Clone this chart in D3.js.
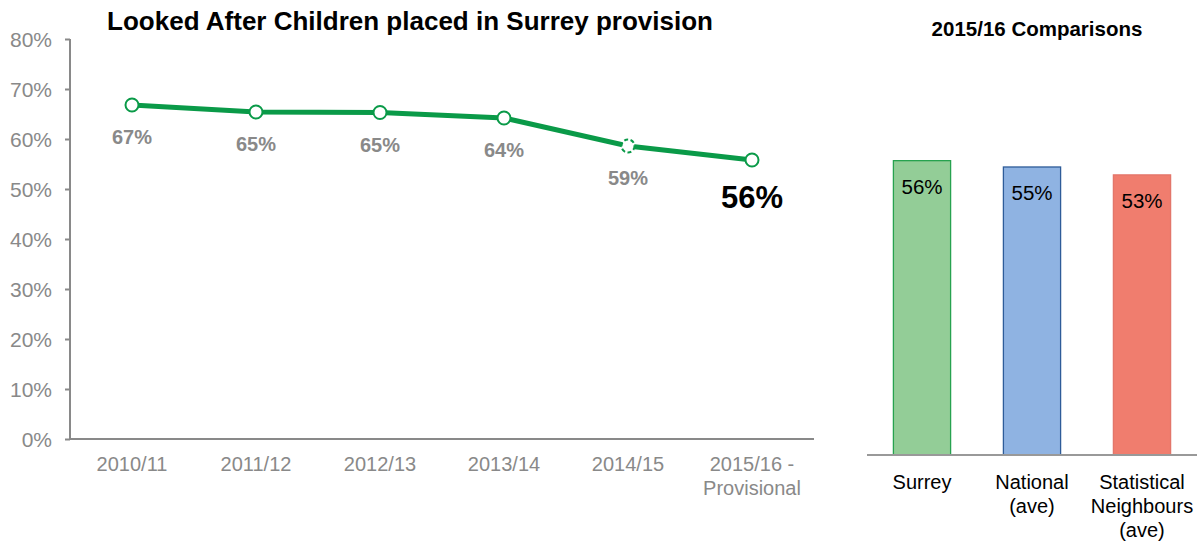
<!DOCTYPE html>
<html>
<head>
<meta charset="utf-8">
<script src="https://cdn.jsdelivr.net/npm/d3@7"></script>
<style>
  html, body { margin: 0; padding: 0; background: #fff; }
  svg { display: block; font-family: "Liberation Sans", Arial, sans-serif; }
</style>
</head>
<body>
<svg id="chart" width="1201" height="543"></svg>
<script>
// Trend: share of looked after children placed in Surrey provision
const years = ["2010/11", "2011/12", "2012/13", "2013/14", "2014/15", "2015/16 -\nProvisional"];
const placedShare = [0.668, 0.654, 0.653, 0.642, 0.586, 0.558];
const yTicks = [0, 0.1, 0.2, 0.3, 0.4, 0.5, 0.6, 0.7, 0.8];

// 2015/16 comparison
const groups = ["Surrey", "National\n(ave)", "Statistical\nNeighbours\n(ave)"];
const groupShare = [0.558, 0.546, 0.531];
const groupFill = ["#93cd97", "#8fb3e2", "#f07d6e"];
const groupStroke = ["#27a24f", "#2e5c99", "#e3766a"];

const svg = d3.select("#chart");
const pct = d3.format(".0%");
const green = "#0a9a48";
const grey = "#898989";

// ---------- Line chart ----------
const x = d3.scaleBand().domain(years).range([70, 814]);
const y = d3.scaleLinear().domain([0, 0.8]).range([439, 39]);
const cx = d => x(d) + x.bandwidth() / 2;

svg.append("text")
  .attr("x", 410).attr("y", 30)
  .attr("text-anchor", "middle")
  .style("font-size", "26px").style("font-weight", "bold")
  .text("Looked After Children placed in Surrey provision");

const yAxis = svg.append("g")
  .attr("transform", "translate(70,0)")
  .call(d3.axisLeft(y).tickValues(yTicks).tickFormat(pct).tickSize(5).tickPadding(13));
yAxis.select(".domain").attr("stroke", grey).attr("stroke-width", 2).attr("d", "M0,39V439");
yAxis.selectAll(".tick line").attr("stroke", grey).attr("stroke-width", 2);
yAxis.selectAll(".tick text").attr("fill", grey).attr("dy", "0.35em")
  .style("font-size", "21px").style("font-family", "Liberation Sans, Arial, sans-serif");

// x baseline
svg.append("line")
  .attr("x1", 70).attr("x2", 814).attr("y1", y(0)).attr("y2", y(0))
  .attr("stroke", grey).attr("stroke-width", 2);

// x category labels (multi-line)
const xl = svg.append("g");
years.forEach(yr => {
  const t = xl.append("text")
    .attr("x", cx(yr)).attr("y", 471)
    .attr("text-anchor", "middle")
    .attr("fill", grey)
    .style("font-size", "20px");
  yr.split("\n").forEach((ln, i) => {
    t.append("tspan").attr("x", cx(yr)).attr("dy", i === 0 ? 0 : 24).text(ln);
  });
});

const data = years.map((yr, i) => ({ yr, v: placedShare[i], i }));

svg.append("path")
  .datum(data)
  .attr("fill", "none")
  .attr("stroke", green)
  .attr("stroke-width", 5)
  .attr("d", d3.line().x(d => cx(d.yr)).y(d => y(d.v)));

svg.selectAll("circle.pt")
  .data(data)
  .join("circle")
  .attr("class", "pt")
  .attr("cx", d => cx(d.yr)).attr("cy", d => y(d.v))
  .attr("r", 6.5)
  .attr("fill", "#fff")
  .attr("stroke", green)
  .attr("stroke-width", 2)
  .attr("stroke-dasharray", d => d.i === 4 ? "4,2.5" : null);

svg.selectAll("text.val")
  .data(data)
  .join("text")
  .attr("class", "val")
  .attr("x", d => cx(d.yr))
  .attr("y", d => d.i === 5 ? y(d.v) + 48 : y(d.v) + 39)
  .attr("text-anchor", "middle")
  .attr("fill", d => d.i === 5 ? "#000" : grey)
  .style("font-weight", "bold")
  .style("font-size", d => d.i === 5 ? "31px" : "20px")
  .text(d => pct(d.v));

// ---------- Comparison bars ----------
const bx = d3.scaleBand().domain(groups).range([867, 1197]).paddingInner(0.48).paddingOuter(0.24);
const by = d3.scaleLinear().domain([0, 0.8]).range([455, 33]);

svg.append("text")
  .attr("x", 1037).attr("y", 36)
  .attr("text-anchor", "middle")
  .style("font-size", "20.5px").style("font-weight", "bold")
  .text("2015/16 Comparisons");

const bars = groups.map((g, i) => ({ g, v: groupShare[i], i }));

svg.selectAll("rect.bar")
  .data(bars)
  .join("rect")
  .attr("class", "bar")
  .attr("x", d => bx(d.g)).attr("width", bx.bandwidth())
  .attr("y", d => by(d.v)).attr("height", d => by(0) - by(d.v))
  .attr("fill", d => groupFill[d.i])
  .attr("stroke", d => groupStroke[d.i])
  .attr("stroke-width", 1.3);

svg.selectAll("text.bval")
  .data(bars)
  .join("text")
  .attr("class", "bval")
  .attr("x", d => bx(d.g) + bx.bandwidth() / 2)
  .attr("y", d => by(d.v) + 33)
  .attr("text-anchor", "middle")
  .attr("fill", "#000")
  .style("font-size", "20.5px")
  .text(d => pct(d.v));

svg.append("line")
  .attr("x1", 867).attr("x2", 1197).attr("y1", by(0)).attr("y2", by(0))
  .attr("stroke", "#999").attr("stroke-width", 2);

bars.forEach(d => {
  const mx = bx(d.g) + bx.bandwidth() / 2;
  const t = svg.append("text")
    .attr("x", mx).attr("y", 489)
    .attr("text-anchor", "middle")
    .attr("fill", "#000")
    .style("font-size", "20px");
  d.g.split("\n").forEach((ln, i) => {
    t.append("tspan").attr("x", mx).attr("dy", i === 0 ? 0 : 24).text(ln);
  });
});
</script>
</body>
</html>
